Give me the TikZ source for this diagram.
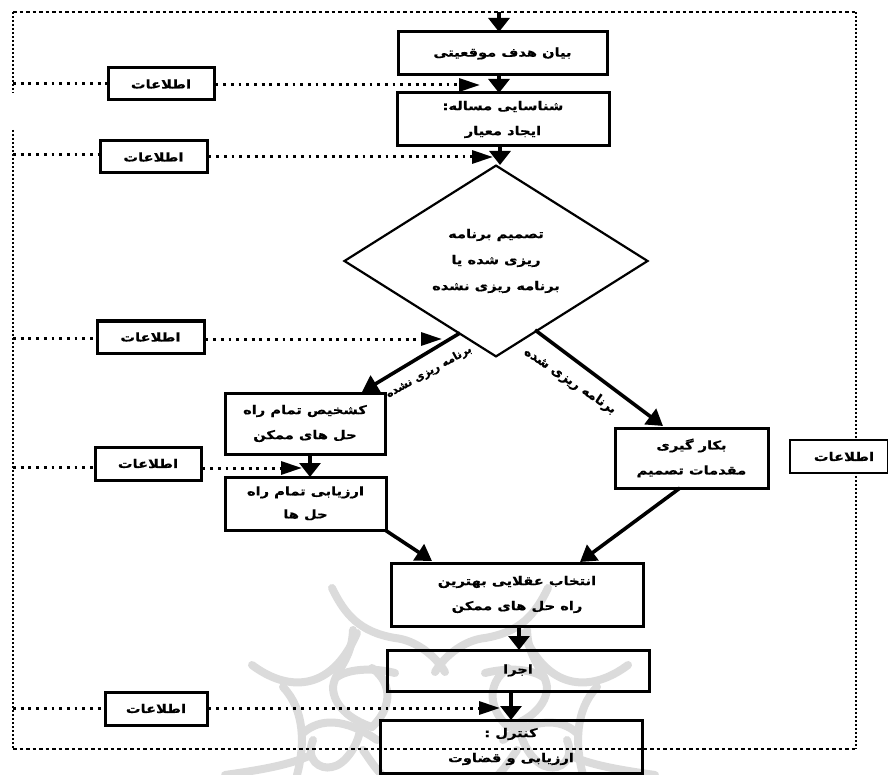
\documentclass[tikz,border=0pt]{standalone}
\usepackage{fontspec}
\usepackage{graphicx}
\usetikzlibrary{arrows.meta,shapes.geometric}
\TeXXeTstate=1
\newfontfamily\arabicfont[Script=Arabic,BoldFeatures={FakeBold=0.6}]{DejaVu Sans}
\newcommand{\fa}[1]{\scalebox{1.22}[1]{\arabicfont\bfseries\beginR #1\endR}}
\newcommand{\faplain}[1]{{\arabicfont\bfseries\beginR #1\endR}}
\definecolor{wm}{gray}{0.86}
\newcommand{\wmhalf}{%
  \draw[wmark] (332,588) .. controls (345,615) and (360,632) .. (395,638);
  \draw[wmark] (252,665) .. controls (285,690) and (330,695) .. (357,633);
  \draw[wmark] (283,687) .. controls (305,710) and (305,745) .. (297,775);
  \draw[wmark] (353,630) .. controls (352,660) and (335,670) .. (333,687) .. controls (333,705) and (350,720) .. (372,727);
  \draw[wmark] (337,677) .. controls (350,668) and (375,668) .. (395,673);
  \draw[wmark] (303,733) .. controls (320,718) and (345,718) .. (377,740);
  \draw[wmark] (313,740) .. controls (305,760) and (320,770) .. (332,767) .. controls (345,765) and (358,745) .. (360,730);
  \draw[wmark] (225,775) .. controls (260,770) and (290,765) .. (311,755);
  \draw[wmark] (363,750) .. controls (370,760) and (375,768) .. (382,775);
  \draw[wmark] (372,668) .. controls (395,685) and (390,710) .. (372,727);
  \draw[wmark] (395,638) .. controls (415,640) and (435,655) .. (445,672);
}
\tikzset{
  x=1pt,y=-1pt,
  flowbox/.style={draw=black,line width=3pt,inner sep=0pt,align=center,font=\fontsize{12}{25}\selectfont},
  infobox/.style={flowbox,minimum height=32pt},
  flow/.style={draw=black,line width=3.2pt,-{Triangle[length=14pt,width=21pt]}},
  branch/.style={draw=black,line width=3.6pt,-{Triangle[length=16pt,width=19pt]}},
  feed/.style={draw=black,line width=3pt,dash pattern=on 2.8pt off 4.9pt},
  feedarrow/.style={feed,-{Triangle[length=21pt,width=13pt]}},
  frameh/.style={draw=black,line width=1.6pt,dash pattern=on 3.5pt off 3pt},
  framev/.style={draw=black,line width=1.8pt,dash pattern=on 2pt off 2pt},
  wmark/.style={draw=wm,line width=8pt,line cap=round},
}
\begin{document}
\begin{tikzpicture}
\useasboundingbox (0,0) rectangle (888,775);
% watermark
\wmhalf
\begin{scope}[shift={(880,0)},xscale=-1]
\wmhalf
\end{scope}
% frame (right side runs behind the outer information box)
\coordinate (fTL) at (13,12);
\coordinate (fTR) at (856,12);
\coordinate (fBR) at (856,749);
\coordinate (fBL) at (13,749);
\coordinate (fA) at (13,93);
\coordinate (fB) at (13,130);
\draw[frameh] (fTL) -- (fTR);
\draw[framev] (fTR) -- (fBR);
\draw[framev] (fTL) -- (fA);
\draw[framev] (fB) -- (fBL);
% main boxes
\node[flowbox,minimum width=209pt,minimum height=43pt] (goal) at (502.5,53.5) {\fa{بیان هدف موقعیتی}};
\node[flowbox,minimum width=212pt,minimum height=53pt] (prob) at (503,119.5) {\fa{شناسایی مساله:}\\\fa{ایجاد معیار}};
\node[diamond,draw=black,line width=2.2pt,minimum width=304pt,minimum height=189pt,inner sep=0pt,align=center,font=\fontsize{12}{26}\selectfont] (dec) at (496,261) {\fa{تصمیم برنامه}\\\fa{ریزی شده یا}\\\fa{برنامه ریزی نشده}};
\node[flowbox,minimum width=160pt,minimum height=61pt] (diag) at (305,423.5) {\fa{کشخیص تمام راه}\\\fa{حل های ممکن}};
\node[flowbox,minimum width=161pt,minimum height=53pt,font=\fontsize{12}{23}\selectfont] (eval) at (305.5,503.5) {\fa{ارزیابی تمام راه}\\\fa{حل ها}};
\node[flowbox,minimum width=153pt,minimum height=60pt] (rule) at (691.5,458) {\fa{بکار گیری}\\\fa{مقدمات تصمیم}};
\node[flowbox,minimum width=252pt,minimum height=63pt] (pick) at (517,594.5) {\fa{انتخاب عقلایی بهترین}\\\fa{راه حل های ممکن}};
\node[flowbox,minimum width=262pt,minimum height=41pt] (exec) at (518,670.5) {\fa{اجرا}};
\node[flowbox,minimum width=262pt,minimum height=53pt] (ctrl) at (511,746.5) {\fa{کنترل :}\\\fa{ارزیابی و قضاوت}};
% info boxes
\node[infobox,minimum width=106pt] (i1) at (161,84) {\fa{اطلاعات}};
\node[infobox,minimum width=107pt] (i2) at (153.5,157) {\fa{اطلاعات}};
\node[infobox,minimum width=107pt] (i3) at (150.5,337) {\fa{اطلاعات}};
\node[infobox,minimum width=106pt,minimum height=33pt] (i4) at (148,463.5) {\fa{اطلاعات}};
\node[infobox,minimum width=102pt,minimum height=33pt] (i5) at (156,708.5) {\fa{اطلاعات}};
\node[infobox,minimum width=98pt,minimum height=33pt,line width=2.4pt,fill=white] (i6) at (839,456.5) {\hspace*{10pt}\fa{اطلاعات}};
% bottom of frame runs across the control box
\draw[frameh] (fBL) -- (fBR);
% flow arrows
\coordinate (start) at (499,12);
\coordinate (g2) at (499,32);
\coordinate (g3) at (499,75);
\coordinate (g4) at (499,93);
\coordinate (p1) at (500,146);
\coordinate (d1) at (500,165);
\draw[flow] (start) -- (g2);
\draw[flow] (g3) -- (g4);
\draw[flow] (p1) -- (d1);
\coordinate (dL) at (460,333);
\coordinate (dR) at (535,330);
\coordinate (dLe) at (362,392);
\coordinate (dRe) at (663,426);
\draw[branch] (dL) -- (dLe);
\draw[branch] (dR) -- (dRe);
\coordinate (q1) at (310,454);
\coordinate (q2) at (310,477);
\draw[flow] (q1) -- (q2);
\coordinate (pL) at (432,561);
\coordinate (pR) at (580,562);
\coordinate (eE) at (385,530);
\coordinate (rE) at (680,488);
\draw[branch] (eE) -- (pL);
\draw[branch] (rE) -- (pR);
\coordinate (q3) at (519,626);
\coordinate (q4) at (519,650);
\coordinate (q5) at (511,691);
\coordinate (q6) at (511,720);
\draw[flow] (q3) -- (q4);
\draw[flow] (q5) -- (q6);
% feeds
\coordinate (a1) at (480,85); \coordinate (l1) at (13,84);
\coordinate (a2) at (493,157); \coordinate (l2) at (13,155);
\coordinate (a3) at (442,339); \coordinate (l3) at (13,338);
\coordinate (a4) at (302,468); \coordinate (l4) at (13,467);
\coordinate (a5) at (500,708); \coordinate (l5) at (13,708);
\draw[feed] (l1) -- (l1 -| i1.west);
\draw[feedarrow] (i1.east |- a1) -- (a1);
\draw[feed] (l2) -- (l2 -| i2.west);
\draw[feedarrow] (i2.east |- a2) -- (a2);
\draw[feed] (l3) -- (l3 -| i3.west);
\draw[feedarrow] (i3.east |- a3) -- (a3);
\draw[feed] (l4) -- (l4 -| i4.west);
\draw[feedarrow] (i4.east |- a4) -- (a4);
\draw[feed] (l5) -- (l5 -| i5.west);
\draw[feedarrow] (i5.east |- a5) -- (a5);
% labels on branches
\node[rotate=29,font=\fontsize{11}{12}\selectfont] (lblL) at (429,372) {\faplain{برنامه ریزی نشده}};
\node[rotate=-34,font=\fontsize{13}{14}\selectfont] (lblR) at (570,381) {\faplain{برنامه ریزی شده}};
\end{tikzpicture}
\end{document}
